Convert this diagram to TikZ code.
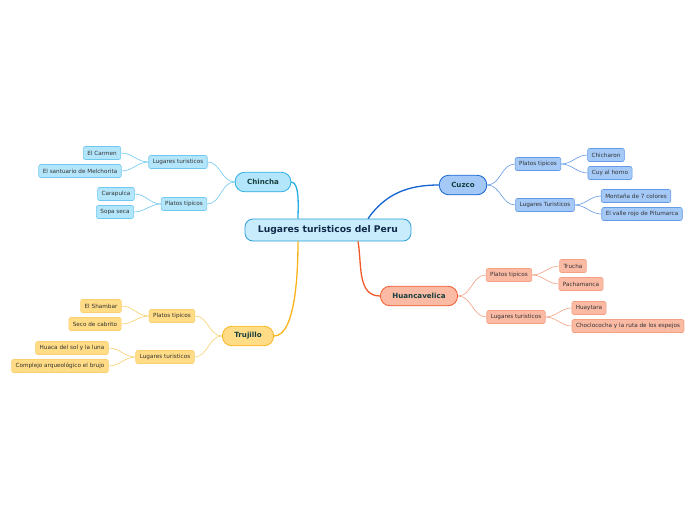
\documentclass[tikz,border=0pt]{standalone}
\usepackage{fontspec}
\setmainfont{DejaVu Sans}
\usetikzlibrary{positioning}
\definecolor{perootfill}{RGB}{201,236,252}
\definecolor{perootline}{RGB}{42,159,216}
\definecolor{peroottext}{RGB}{16,42,74}
\definecolor{pebranchtext}{RGB}{22,62,62}
\definecolor{peleaftext}{RGB}{51,51,51}
\definecolor{pecyan}{RGB}{40,174,230}
\definecolor{pecyanfill}{RGB}{180,230,251}
\definecolor{pecyanlight}{RGB}{110,200,240}
\definecolor{peblue}{RGB}{20,100,210}
\definecolor{pebluefill}{RGB}{164,201,247}
\definecolor{pebluelight}{RGB}{100,155,230}
\definecolor{pered}{RGB}{240,90,40}
\definecolor{peredfill}{RGB}{251,186,164}
\definecolor{peredlight}{RGB}{244,160,130}
\definecolor{peamber}{RGB}{250,180,26}
\definecolor{peamberfill}{RGB}{255,220,133}
\definecolor{peamberlight}{RGB}{250,208,110}
\tikzset{
  peroot/.style={draw=perootline, fill=perootfill, thick, rounded corners=8pt, minimum height=22, inner xsep=13pt, text=peroottext, font=\fontsize{9.2}{10}\selectfont\bfseries},
  pebranch/.style={draw=#1, fill=#1fill, thick, rounded corners=9.5pt, minimum height=19.5, inner xsep=12pt, text=pebranchtext, font=\fontsize{7.1}{8}\selectfont\bfseries},
  peleaf/.style={draw=#1light, fill=#1fill, line width=.6pt, rounded corners=2pt, minimum height=13, inner xsep=4pt, inner ysep=1pt, text=peleaftext, font=\fontsize{5.7}{6.5}\selectfont},
  pemain/.style={line width=1.3pt, draw=#1},
  pesub/.style={line width=.6pt, draw=#1light}
}
\begin{document}
\begin{tikzpicture}[x=1pt, y=-1pt]
  \useasboundingbox[fill=white] (0,0) rectangle (696,520);
  \node[peroot] (root) at (328,230) {Lugares turisticos del Peru};
  % branches
  \node[pebranch=pecyan] (chincha) at (263,182) {Chincha};
  \node[pebranch=peblue] (cuzco) at (463,185) {Cuzco};
  \node[pebranch=pered] (huanca) at (419,296) {Huancavelica};
  \node[pebranch=peamber] (trujillo) at (248,336) {Trujillo};
  % Chincha
  \node[peleaf=pecyan] (chlug) at (178,162) {Lugares turisticos};
  \node[peleaf=pecyan] (chcarmen) at (102,153) {El Carmen};
  \node[peleaf=pecyan] (chsant) at (80,171) {El santuario de Melchorita};
  \node[peleaf=pecyan] (chplat) at (184,204) {Platos tipicos};
  \node[peleaf=pecyan] (chcara) at (116,194) {Carapulca};
  \node[peleaf=pecyan] (chsopa) at (115,212) {Sopa seca};
  % Cuzco
  \node[peleaf=peblue] (cuplat) at (538,164) {Platos tipicos};
  \node[peleaf=peblue] (cuchic) at (606,155) {Chicharon};
  \node[peleaf=peblue] (cucuy) at (610,173) {Cuy al horno};
  \node[peleaf=peblue] (culug) at (545,205) {Lugares Turisticos};
  \node[peleaf=peblue] (cumont) at (636,196) {Montaña de 7 colores};
  \node[peleaf=peblue] (cuvalle) at (642,214) {El valle rojo de Pitumarca};
  % Huancavelica
  \node[peleaf=pered] (huplat) at (509,275) {Platos tipicos};
  \node[peleaf=pered] (hutru) at (573,266) {Trucha};
  \node[peleaf=pered] (hupach) at (581,284) {Pachamanca};
  \node[peleaf=pered] (hulug) at (516,317) {Lugares turisticos};
  \node[peleaf=pered] (huhuay) at (589,308) {Huaytara};
  \node[peleaf=pered] (huchoc) at (628,326) {Choclococha y la ruta de los espejos};
  % Trujillo
  \node[peleaf=peamber] (trplat) at (172,316) {Platos tipicos};
  \node[peleaf=peamber] (trsham) at (101,306) {El Shambar};
  \node[peleaf=peamber] (trseco) at (95,324) {Seco de cabrito};
  \node[peleaf=peamber] (trlug) at (165,357) {Lugares turisticos};
  \node[peleaf=peamber] (trhuaca) at (72,348) {Huaca del sol y la luna};
  \node[peleaf=peamber] (trcomp) at (60,366) {Complejo arqueológico el brujo};
  % main connectors
  \draw[pemain=pecyan] (root.north) ++(-30,0) to[out=90,in=0,looseness=.6] (chincha.east);
  \draw[pemain=peblue] (root.north) ++(40,0) to[out=55,in=180] (cuzco.west);
  \draw[pemain=pered] (root.south) ++(30,0) to[out=-80,in=180] (huanca.west);
  \draw[pemain=peamber] (root.south) ++(-30,0) to[out=-90,in=0,looseness=.6] (trujillo.east);
  % sub connectors
  \foreach \a/\b/\c in {chincha/chlug/pecyan, chincha/chplat/pecyan, chlug/chcarmen/pecyan, chlug/chsant/pecyan, chplat/chcara/pecyan, chplat/chsopa/pecyan,
    trujillo/trplat/peamber, trujillo/trlug/peamber, trplat/trsham/peamber, trplat/trseco/peamber, trlug/trhuaca/peamber, trlug/trcomp/peamber}
    \draw[pesub=\c] (\a.west) to[out=180,in=0] (\b.east);
  \foreach \a/\b/\c in {cuzco/cuplat/peblue, cuzco/culug/peblue, cuplat/cuchic/peblue, cuplat/cucuy/peblue, culug/cumont/peblue, culug/cuvalle/peblue,
    huanca/huplat/pered, huanca/hulug/pered, huplat/hutru/pered, huplat/hupach/pered, hulug/huhuay/pered, hulug/huchoc/pered}
    \draw[pesub=\c] (\a.east) to[out=0,in=180] (\b.west);
\end{tikzpicture}
\end{document}
